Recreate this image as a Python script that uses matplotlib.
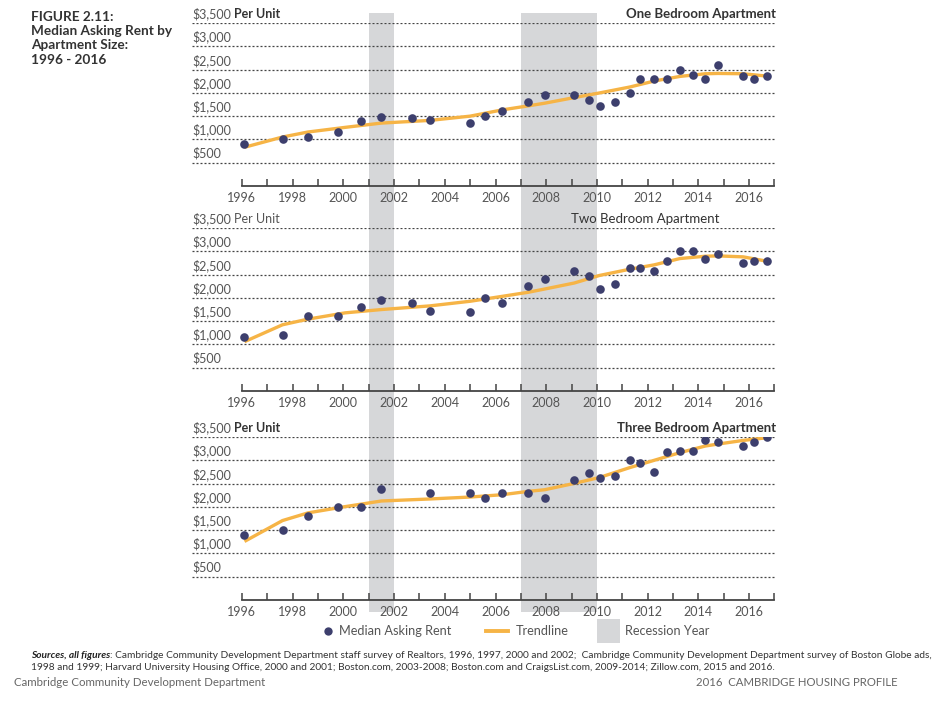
import matplotlib
matplotlib.use("Agg")
import matplotlib.pyplot as plt
from matplotlib.lines import Line2D
from matplotlib.patches import Rectangle
from matplotlib.transforms import blended_transform_factory

plt.rcParams['font.family'] = ['Lato', 'DejaVu Sans']

# ---------------- data ----------------
years_ab = [1996.1, 1997.6, 1998.6, 1999.77, 2000.7, 2001.5, 2002.7, 2003.4, 2005.0, 2005.6,
            2006.27, 2007.28, 2007.94, 2009.1, 2009.7, 2010.1, 2010.7, 2011.3, 2011.7, 2012.26,
            2012.78, 2013.27, 2013.79, 2014.27, 2014.78, 2015.77, 2016.2, 2016.7]
one_bed = [910, 1002, 1052, 1152, 1386, 1472, 1450, 1408, 1351, 1500,
           1600, 1806, 1962, 1962, 1849, 1721, 1799, 1998, 2297, 2297,
           2297, 2496, 2389, 2297, 2588, 2353, 2297, 2353]
two_bed = [1152, 1194, 1600, 1600, 1813, 1948, 1898, 1721, 1699, 1991,
           1898, 2247, 2403, 2567, 2467, 2183, 2297, 2645, 2631, 2574,
           2801, 3000, 3000, 2837, 2951, 2744, 2801, 2801]
years_c = [1996.1, 1997.6, 1998.6, 1999.77, 2000.7, 2001.5, 2003.4, 2005.0, 2005.6,
           2006.27, 2007.28, 2007.94, 2009.1, 2009.7, 2010.1, 2010.7, 2011.3, 2011.7, 2012.26,
           2012.78, 2013.27, 2013.79, 2014.27, 2014.78, 2015.77, 2016.2, 2016.7]
three_bed = [1401, 1500, 1799, 1998, 1998, 2389, 2297, 2297, 2197,
             2297, 2297, 2197, 2574, 2730, 2609, 2652, 3000, 2951, 2752,
             3178, 3200, 3200, 3441, 3399, 3306, 3399, 3505]

trend_years = [1996.1, 1997.6, 1998.6, 2000.07, 2001.5, 2003.4, 2005.0, 2006.27, 2007.28, 2007.94,
               2009.1, 2010.1, 2011.3, 2012.26, 2013.27, 2014.27, 2014.78, 2015.77, 2016.7]
trend_one = [832, 1052, 1159, 1259, 1351, 1408, 1500, 1635, 1720, 1778,
             1898, 1998, 2126, 2254, 2353, 2410, 2417, 2410, 2360]
trend_two = [1059, 1422, 1543, 1678, 1749, 1827, 1927, 2033, 2119, 2190,
             2318, 2481, 2616, 2709, 2844, 2894, 2901, 2880, 2787]
trend_three = [1258, 1706, 1870, 2005, 2126, 2169, 2211, 2261, 2332, 2368,
               2503, 2631, 2844, 3000, 3164, 3306, 3349, 3427, 3484]

recession_start = [2001, 2007]
recession_end = [2002, 2010]

y_values = [500, 1000, 1500, 2000, 2500, 3000, 3500]
y_labels = ['$500', '$1,000', '$1,500', '$2,000', '$2,500', '$3,000', '$3,500']
x_ticks = list(range(1996, 2018))
x_labels = [str(y) if (y % 2 == 0 and y <= 2016) else '' for y in x_ticks]

panel_titles = ['One Bedroom Apartment', 'Two Bedroom Apartment', 'Three Bedroom Apartment']
panel_bold = [True, False, True]

# ---------------- styles ----------------
DOT = '#3d3f6d'
TREND = '#f6b446'
SHADE = '#d6d7d9'
GRID = '#444444'
TXT = '#555555'

W, H = 953, 701
fig = plt.figure(figsize=(W / 100, H / 100), dpi=100)

left_px, right_px = 192, 776
axis_px = [186, 391, 600]
height_px = 163

axes = []
for k in range(3):
    ax = fig.add_axes([left_px / W, 1 - axis_px[k] / H, (right_px - left_px) / W, height_px / H])
    axes.append(ax)

series_x = [years_ab, years_ab, years_c]
series_y = [one_bed, two_bed, three_bed]
trends = [trend_one, trend_two, trend_three]

for k, ax in enumerate(axes):
    ax.set_xlim(1994.03, 2017.06)
    ax.set_ylim(0, 3500)
    ax.patch.set_alpha(0)
    for v in y_values:
        ax.axhline(v, color=GRID, lw=0.9, ls=(0, (1.6, 1.6)), zorder=1)
    ax.plot(trend_years, trends[k], color=TREND, lw=2.4, zorder=3, solid_capstyle='butt')
    ax.plot(series_x[k], series_y[k], 'o', color=DOT, ms=6.2, mec='none', zorder=4)
    for s in ['left', 'right', 'top']:
        ax.spines[s].set_visible(False)
    ax.spines['bottom'].set_bounds(1996, 2017)
    ax.spines['bottom'].set_color('#444444')
    ax.spines['bottom'].set_linewidth(1.3)
    ax.set_yticks([])
    ax.set_xticks(x_ticks)
    ax.set_xticklabels(x_labels)
    ax.tick_params(axis='x', direction='in', length=5, width=1.1, color='#444444',
                   labelsize=9, labelcolor=TXT, pad=4)
    bt = blended_transform_factory(ax.transAxes, ax.transData)
    for v, lab in zip(y_values, y_labels):
        ax.text(0.0, v + 60, lab, transform=bt, ha='left', va='bottom',
                fontsize=9, color=TXT)
    ax.text(1.0 if k != 1 else 0.903, 3560, panel_titles[k], transform=bt, ha='right',
            va='bottom', fontsize=9.5, color='#333333',
            fontweight='bold' if panel_bold[k] else 'normal')

# recession shading, spanning all panels (behind everything)
bt_fig = blended_transform_factory(axes[0].transData, fig.transFigure)
y_lo, y_hi = 1 - 612 / H, 1 - 13 / H
for s, e in zip(recession_start, recession_end):
    fig.patches.append(Rectangle((s, y_lo), e - s, y_hi - y_lo, transform=bt_fig,
                                 facecolor=SHADE, edgecolor='none', zorder=-5))

# "Per Unit" next to $3,500
fig.canvas.draw()
renderer = fig.canvas.get_renderer()
for k, ax in enumerate(axes):
    t = [tt for tt in ax.texts if tt.get_text() == '$3,500'][0]
    bb = t.get_window_extent(renderer)
    inv = fig.transFigure.inverted()
    x0, y0 = inv.transform((bb.x1 + 3, bb.y0))
    fig.text(x0, y0, 'Per Unit', ha='left', va='bottom', fontsize=9,
             color='#333333' if panel_bold[k] else TXT,
             fontweight='bold' if panel_bold[k] else 'normal')

# title
fig.text(31 / W, 1 - 11 / H, 'FIGURE 2.11:\nMedian Asking Rent by\nApartment Size:\n1996 - 2016',
         ha='left', va='top', fontsize=9.8, fontweight='bold', color='#333333', linespacing=1.22)

# legend
ly = 1 - 631 / H
fig.add_artist(Line2D([328 / W], [ly], marker='o', color=DOT, ms=6, mec='none', transform=fig.transFigure))
fig.text(339 / W, ly, 'Median Asking Rent', ha='left', va='center', fontsize=9.2, color=TXT)
fig.add_artist(Line2D([486 / W, 508 / W], [ly, ly], color=TREND, lw=2.8, transform=fig.transFigure))
fig.text(516 / W, ly, 'Trendline', ha='left', va='center', fontsize=9.2, color=TXT)
fig.patches.append(Rectangle((597 / W, 1 - 643 / H), 23 / W, 24 / H, transform=fig.transFigure,
                             facecolor=SHADE, edgecolor='none'))
fig.text(625 / W, ly, 'Recession Year', ha='left', va='center', fontsize=9.2, color=TXT)

# sources
FS = 7.3
s1 = fig.text(31 / W, 1 - 656 / H, 'Sources, all figures', ha='left', va='center', fontsize=FS,
              fontweight='bold', fontstyle='italic', color='#222222')
fig.canvas.draw()
bb = s1.get_window_extent(fig.canvas.get_renderer())
xs = fig.transFigure.inverted().transform((bb.x1, bb.y0))[0]
fig.text(xs, 1 - 656 / H, ': Cambridge Community Development Department staff survey of Realtors, 1996, 1997, 2000 and 2002;  '
         'Cambridge Community Development Department survey of Boston Globe ads,',
         ha='left', va='center', fontsize=FS, color='#333333')
fig.text(31 / W, 1 - 667 / H, '1998 and 1999; Harvard University Housing Office, 2000 and 2001; Boston.com, 2003-2008; '
         'Boston.com and CraigsList.com, 2009-2014; Zillow.com, 2015 and 2016.',
         ha='left', va='center', fontsize=FS, color='#333333')

# footer
fig.text(14 / W, 1 - 683 / H, 'Cambridge Community Development Department', ha='left', va='center',
         fontsize=8.3, color='#666666')
fig.text(898 / W, 1 - 683 / H, '2016  CAMBRIDGE HOUSING PROFILE', ha='right', va='center',
         fontsize=8.2, color='#666666')

fig.savefig('out.png', dpi=100)
